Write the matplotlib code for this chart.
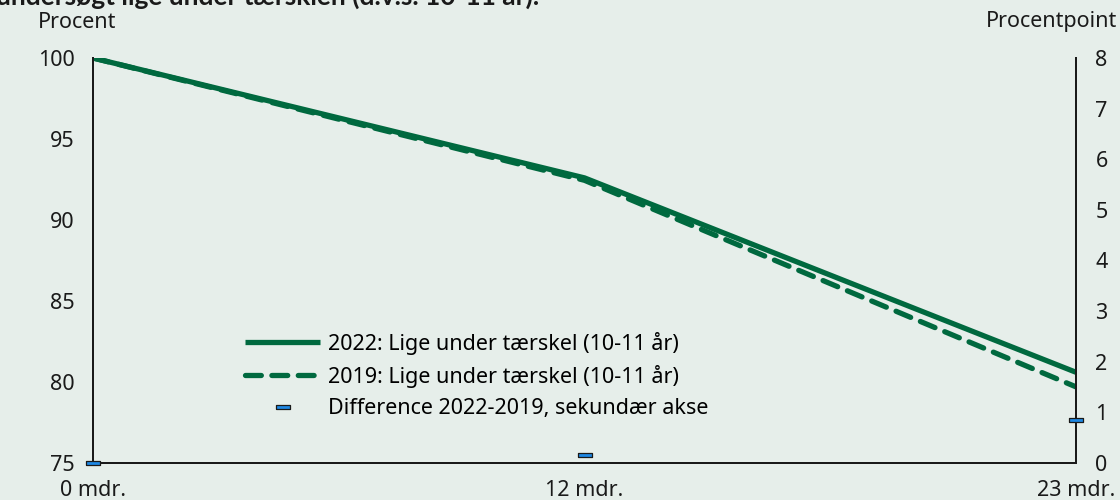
import numpy as np
import matplotlib.pyplot as plt
from matplotlib.path import Path

plt.rcParams['font.family'] = ['Noto Sans', 'DejaVu Sans']

months = [0, 12, 24]
month_labels = ['0 mdr.', '12 mdr.', '23 mdr.']
share_2022 = [100.0, 92.6, 80.6]
share_2019 = [100.0, 92.45, 79.7]
diff = [0.0, 0.15, 0.85]

bg = '#e6eeea'
green = '#00693f'
ink = '#1a1a1a'
fs = 15.5

fig = plt.figure(figsize=(11.2, 5), dpi=100, facecolor=bg)
ax = fig.add_axes([93/1120, 37/500, 983/1120, 405/500], facecolor=bg)
ax2 = ax.twinx()

l1, = ax.plot(months, share_2022, color=green, lw=3.8, solid_capstyle='butt',
              label='2022: Lige under tærskel (10-11 år)')
l2, = ax.plot(months, share_2019, color=green, lw=3.8, ls=(0, (3.0, 2.0)),
              dash_capstyle='round',
              label='2019: Lige under tærskel (10-11 år)')

bar = Path([(-1, -0.28), (1, -0.28), (1, 0.28), (-1, 0.28), (-1, -0.28)])
l3, = ax2.plot(months, diff, ls='none', marker=bar, markersize=10,
               markerfacecolor='#1e88e5', markeredgecolor=ink, markeredgewidth=0.9,
               label='Difference 2022-2019, sekundær akse', clip_on=False, zorder=5)

ax.set_xlim(0, 24)
ax.set_ylim(75, 100)
ax2.set_ylim(0, 8)
ax.set_yticks([75, 80, 85, 90, 95, 100])
ax2.set_yticks(range(0, 9))
ax.set_xticks(months)
ax.set_xticklabels(month_labels)

for a in (ax, ax2):
    a.tick_params(length=0, labelsize=fs, colors=ink)
    for s in a.spines.values():
        s.set_color(ink)
        s.set_linewidth(1.4)
    a.spines['top'].set_visible(False)
ax.tick_params(axis='y', pad=13)
ax2.tick_params(axis='y', pad=14)
ax.tick_params(axis='x', pad=12)

fig.text(38/1120, 1 - 22/500, 'Procent', fontsize=fs, va='center', ha='left', color=ink)
fig.text(1117/1120, 1 - 22/500, 'Procentpoint', fontsize=fs, va='center', ha='right', color=ink)
fig.text(-4/1120, 1 - 5/500, 'undersøgt lige under tærsklen (d.v.s. 10-11 år).', fontsize=19,
         fontweight='bold', family=['Lato', 'DejaVu Sans'], va='baseline', ha='left', color=ink)

ax.legend(handles=[l1, l2, l3], loc='lower left', bbox_to_anchor=(0.135, 0.06),
          frameon=False, fontsize=fs, handlelength=3.5, handletextpad=0.35,
          labelspacing=0.48)

fig.savefig('out.png', dpi=100, facecolor=bg)
